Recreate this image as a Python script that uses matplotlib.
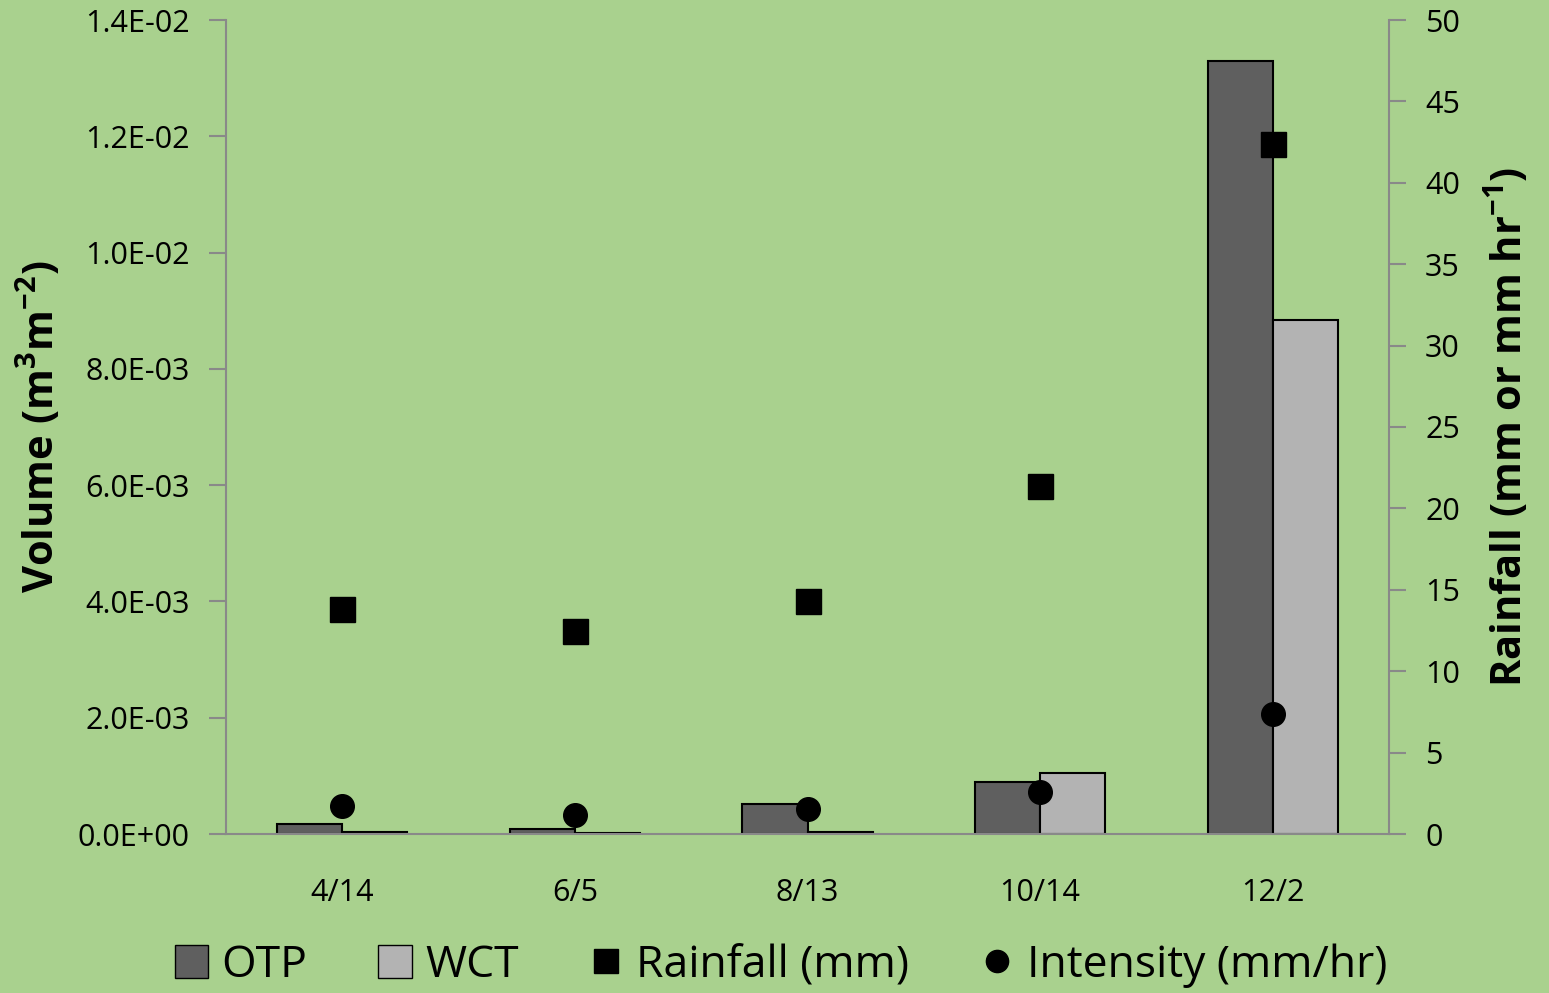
import matplotlib
matplotlib.use('Agg')
import numpy as np
import matplotlib.pyplot as plt
from matplotlib.patches import Patch
from matplotlib.lines import Line2D

# data
dates = ['4/14', '6/5', '8/13', '10/14', '12/2']
otp = [1.8e-4, 9.0e-5, 5.1e-4, 8.9e-4, 1.33e-2]
wct = [4.0e-5, 1.0e-5, 3.0e-5, 1.05e-3, 8.84e-3]
rainfall = [13.8, 12.5, 14.3, 21.4, 42.4]
intensity = [1.7, 1.15, 1.55, 2.6, 7.4]

bg = '#A9D18E'
axis_gray = '#898989'

plt.rcParams['font.family'] = ['Open Sans', 'DejaVu Sans']
plt.rcParams['mathtext.fontset'] = 'custom'
plt.rcParams['mathtext.rm'] = 'Open Sans'
plt.rcParams['mathtext.bf'] = 'Open Sans:bold'

fig = plt.figure(figsize=(15.49, 9.93), dpi=100, facecolor=bg)
ax = fig.add_axes([226/1549, 1 - 834/993, (1389 - 226)/1549, (834 - 20)/993])
ax.set_facecolor(bg)

x = np.arange(len(dates))
w = 0.28
ax.bar(x - w/2, otp, w, color='#5F5F5F', edgecolor='black', linewidth=1.5, zorder=2)
ax.bar(x + w/2, wct, w, color='#B3B3B3', edgecolor='black', linewidth=1.5, zorder=2)

ax.set_xlim(-0.5, len(dates) - 0.5)
ax.set_ylim(0, 0.014)
ax.set_yticks(np.arange(0, 0.0141, 0.002))
ax.set_yticklabels(['%.1E' % v for v in np.arange(0, 0.0141, 0.002)], fontsize=22)
ax.set_xticks(x)
ax.set_xticklabels(dates, fontsize=22)
ax.tick_params(axis='x', length=0, pad=32)
ax.tick_params(axis='y', length=12, color=axis_gray, width=1.5, pad=14)
for s in ['top', 'right']:
    ax.spines[s].set_visible(False)
for s in ['left', 'bottom']:
    ax.spines[s].set_color(axis_gray)
    ax.spines[s].set_linewidth(1.5)
ax.set_ylabel(r'Volume (m$^{\mathbf{3}}$m$^{\mathbf{-2}}$)', fontsize=30, fontweight='bold', labelpad=10)

ax2 = ax.twinx()
ax2.set_ylim(0, 50)
ax2.set_yticks(range(0, 51, 5))
ax2.tick_params(axis='y', length=12, color=axis_gray, width=1.5, labelsize=22, pad=14)
for s in ['top', 'left', 'bottom']:
    ax2.spines[s].set_visible(False)
ax2.spines['right'].set_color(axis_gray)
ax2.spines['right'].set_linewidth(1.5)
ax2.plot(x, rainfall, 's', color='black', markersize=18, zorder=3)
ax2.plot(x, intensity, 'o', color='black', markersize=17, zorder=3)
ax2.set_ylabel(r'Rainfall (mm or mm hr$^{\mathbf{-1}}$)', fontsize=30, fontweight='bold', labelpad=18)

handles = [
    Patch(facecolor='#5F5F5F', edgecolor='black', label='OTP'),
    Patch(facecolor='#B3B3B3', edgecolor='black', label='WCT'),
    Line2D([], [], marker='s', color='black', linestyle='none', markersize=17, label='Rainfall (mm)'),
    Line2D([], [], marker='o', color='black', linestyle='none', markersize=16, label='Intensity (mm/hr)'),
]
fig.legend(handles=handles, loc='center', bbox_to_anchor=(781/1549, 1 - 966/993), ncol=4,
           frameon=False, fontsize=32, handlelength=0.75, handleheight=0.75,
           handletextpad=0.3, columnspacing=1.6)

fig.savefig('out.png', dpi=100, facecolor=bg)
